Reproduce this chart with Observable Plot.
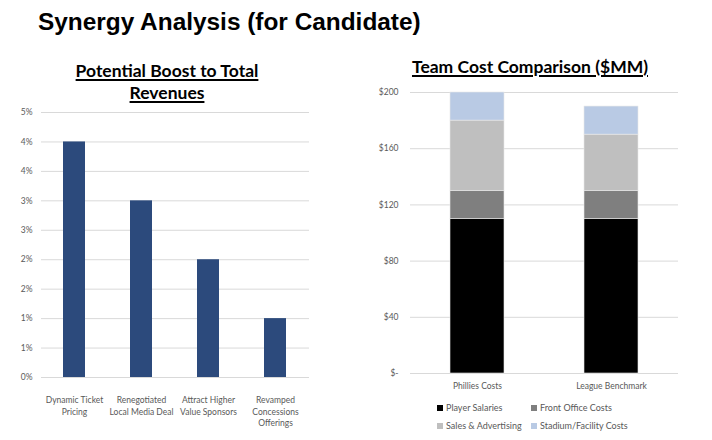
<!DOCTYPE html>
<html>
<head>
<meta charset="utf-8">
<script src="https://cdn.jsdelivr.net/npm/d3@7"></script>
<script src="https://cdn.jsdelivr.net/npm/@observablehq/plot@0.6"></script>
<style>
  html, body { margin: 0; padding: 0; background: #fff; }
  #page { position: relative; width: 712px; height: 440px; overflow: hidden; font-family: Lato, "Open Sans", sans-serif; }
  .abs { position: absolute; }
  #title { left: 38px; top: 8px; font-family: "Liberation Sans", Arial, sans-serif; font-weight: bold; font-size: 24.4px; color: #000; white-space: nowrap; }
  .sub { font-weight: bold; font-size: 17.5px; text-decoration: underline; text-decoration-thickness: 1.5px; text-underline-offset: 2px; color: #000; text-align: center; line-height: 22px; white-space: nowrap; }
  #legend { left: 437px; top: 402px; font-size: 9px; color: #595959; }
  .li { position: absolute; white-space: nowrap; }
  .sw { display: inline-block; width: 6px; height: 6px; margin-right: 3px; vertical-align: 0px; }
</style>
</head>
<body>
<div id="page">
  <div id="title" class="abs">Synergy Analysis (for Candidate)</div>
  <div class="abs sub" style="left:67px; top:60px; width:200px;">Potential Boost to Total<br>Revenues</div>
  <div class="abs sub" style="left:400px; top:56px; width:260px;">Team Cost Comparison ($MM)</div>
  <div id="left" class="abs" style="left:0px; top:100px;"></div>
  <div id="right" class="abs" style="left:370px; top:80px;"></div>
  <div id="legend" class="abs"></div>
</div>
<script>
// ---- Left chart data ----
const boostCategories = ["Dynamic Ticket\nPricing", "Renegotiated\nLocal Media Deal", "Attract Higher\nValue Sponsors", "Revamped\nConcessions\nOfferings"];
const boostValues = [4, 3, 2, 1]; // percent
const boostTicks = [0, 0.5, 1, 1.5, 2, 2.5, 3, 3.5, 4, 4.5];

// ---- Right chart data ----
const teams = ["Phillies Costs", "League Benchmark"];
const costCategories = ["Player Salaries", "Front Office Costs", "Sales & Advertising", "Stadium/Facility Costs"];
const playerSalaries = [110, 110];
const frontOffice = [20, 20];
const salesAdvertising = [50, 40];
const stadiumFacility = [20, 20];
const costColors = ["#000000", "#7f7f7f", "#bfbfbf", "#b9cae4"];
const costTicks = [0, 40, 80, 120, 160, 200];

const boostData = boostCategories.map((c, i) => ({category: c, value: boostValues[i]}));

const leftPlot = Plot.plot({
  width: 330,
  height: 340,
  marginTop: 12,
  marginBottom: 63,
  marginLeft: 41,
  marginRight: 21,
  style: {fontFamily: "Lato, 'Open Sans', sans-serif", fontSize: "8.5px", color: "#595959", background: "transparent"},
  x: {domain: boostCategories, paddingInner: 0.67, paddingOuter: 0.335, label: null},
  y: {domain: [0, 4.5], label: null},
  marks: [
    Plot.gridY(boostTicks, {stroke: "#d9d9d9", strokeOpacity: 1, strokeWidth: 1}),
    Plot.barY(boostData, {x: "category", y: "value", fill: "#2c4a7c"}),
    Plot.axisX({tickSize: 0, tickPadding: 17, lineHeight: 1.38, fill: "#595959", label: null}),
    Plot.axisY(boostTicks, {tickSize: 0, tickPadding: 9, tickFormat: d => Math.round(d) + "%", fill: "#595959", label: null})
  ]
});
document.getElementById("left").appendChild(leftPlot);

const costSeries = [playerSalaries, frontOffice, salesAdvertising, stadiumFacility];
const costData = [];
teams.forEach((t, ti) => {
  costCategories.forEach((c, ci) => {
    costData.push({team: t, category: c, value: costSeries[ci][ti]});
  });
});

const fmtDollar = d => d === 0 ? "$-" : "$" + d;

const rightPlot = Plot.plot({
  width: 330,
  height: 313,
  marginTop: 12,
  marginBottom: 20,
  marginLeft: 40,
  marginRight: 22,
  style: {fontFamily: "Lato, 'Open Sans', sans-serif", fontSize: "8.5px", color: "#595959", background: "transparent"},
  x: {domain: teams, paddingInner: 0.6, paddingOuter: 0.3, label: null},
  y: {domain: [0, 200], label: null},
  color: {domain: costCategories, range: costColors},
  marks: [
    Plot.gridY(costTicks, {stroke: "#d9d9d9", strokeOpacity: 1, strokeWidth: 1}),
    Plot.barY(costData, {x: "team", y: "value", fill: "category", order: costCategories, stroke: "#e8e8e8", strokeWidth: 0.6}),
    Plot.axisX({tickSize: 0, tickPadding: 9, fill: "#595959", label: null}),
    Plot.axisY(costTicks, {tickSize: 0, tickPadding: 12, tickFormat: fmtDollar, fill: "#595959", label: null})
  ]
});
document.getElementById("right").appendChild(rightPlot);

// Legend
const legend = document.getElementById("legend");
costCategories.forEach((c, i) => {
  const el = document.createElement("div");
  el.className = "li";
  el.style.left = (i % 2 === 0 ? 0 : 94) + "px";
  el.style.top = (i < 2 ? 0 : 18) + "px";
  el.innerHTML = `<span class="sw" style="background:${costColors[i]}"></span>${c}`;
  legend.appendChild(el);
});
</script>
</body>
</html>
